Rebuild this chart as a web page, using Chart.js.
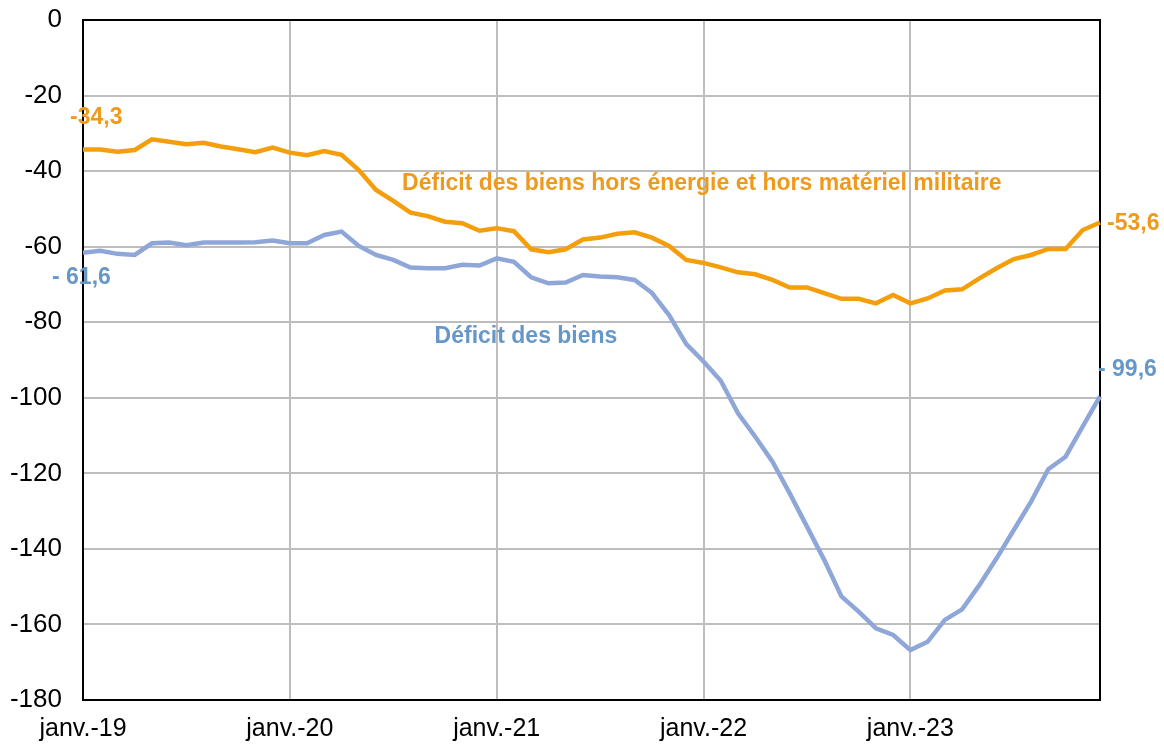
<!DOCTYPE html>
<html>
<head>
<meta charset="utf-8">
<script src="https://cdn.jsdelivr.net/npm/chart.js@4"></script>
<style>
  body { margin: 0; background: #fff; }
  #wrap { width: 1164px; height: 744px; }
</style>
</head>
<body>
<div id="wrap"><canvas id="myChart"></canvas></div>
<script>
const monthNames = ["janv.", "févr.", "mars", "avr.", "mai", "juin", "juil.", "août", "sept.", "oct.", "nov.", "déc."];
const years = ["19", "20", "21", "22", "23"];
const categories = years.flatMap((y) => monthNames.map((m) => m + "-" + y));

// Déficit des biens hors énergie et hors matériel militaire (Md€, cumul 12 mois)
const deficitHorsEnergie = [
  -34.3, -34.3, -34.9, -34.4, -31.6, -32.2, -32.9, -32.5, -33.5, -34.2, -35.0, -33.8,
  -35.1, -35.8, -34.7, -35.7, -39.7, -45.0, -47.9, -51.0, -51.9, -53.4, -53.8, -55.8,
  -55.1, -55.9, -60.7, -61.5, -60.7, -58.1, -57.6, -56.6, -56.2, -57.6, -59.8, -63.5,
  -64.3, -65.5, -66.8, -67.3, -68.8, -70.8, -70.8, -72.3, -73.8, -73.8, -75.0, -72.8,
  -75.0, -73.7, -71.6, -71.3, -68.4, -65.7, -63.3, -62.2, -60.6, -60.6, -55.6, -53.6
];

// Déficit des biens
const deficitBiens = [
  -61.6, -61.1, -61.9, -62.2, -59.1, -58.9, -59.6, -58.9, -58.9, -58.9, -58.8, -58.4,
  -59.1, -59.1, -56.9, -56.0, -59.8, -62.2, -63.5, -65.5, -65.7, -65.7, -64.8, -65.0,
  -63.1, -64.0, -68.1, -69.7, -69.5, -67.5, -67.9, -68.1, -68.8, -72.2, -78.1, -85.8,
  -90.4, -95.5, -104.1, -110.3, -116.9, -125.3, -134.1, -142.9, -152.6, -156.6, -161.0, -162.8,
  -166.8, -164.6, -158.8, -156.0, -149.6, -142.5, -135.0, -127.5, -118.9, -115.6, -107.6, -99.6
];

const yMin = -180;
const yMax = 0;
const yStep = 20;

const orange = "#F59E0B";
const orangeText = "#EE9A1E";
const blue = "#8EA6D8";
const blueText = "#6797C8";
const gridGrey = "#BDBDBD";

// texts placed on the chart: anchored on (category index, value), shifted in px
const notes = [
  { text: "-34,3", i: 0, v: deficitHorsEnergie[0], dx: -13, dy: -32, align: "left", color: orangeText },
  { text: "- 61,6", i: 0, v: deficitBiens[0], dx: -31, dy: 25, align: "left", color: blueText },
  { text: "-53,6", i: 59, v: deficitHorsEnergie[59], dx: 7, dy: 1, align: "left", color: orangeText },
  { text: "- 99,6", i: 59, v: deficitBiens[59], dx: -2, dy: -27, align: "left", color: blueText },
  { text: "Déficit des biens hors énergie et hors matériel militaire", i: 35.9, v: -43.2, dx: 0, dy: 0, align: "center", color: orangeText },
  { text: "Déficit des biens", i: 25.7, v: -83.9, dx: 0, dy: 0, align: "center", color: blueText }
];

const frameAndNotes = {
  id: "frameAndNotes",
  beforeDatasetsDraw(chart) {
    const { ctx, chartArea } = chart;
    ctx.save();
    ctx.strokeStyle = "#000";
    ctx.lineWidth = 2;
    ctx.strokeRect(chartArea.left, chartArea.top, chartArea.right - chartArea.left, chartArea.bottom - chartArea.top);
    ctx.restore();
  },
  afterDatasetsDraw(chart) {
    const { ctx } = chart;
    const xs = chart.scales.x;
    const ys = chart.scales.y;
    const step = xs.getPixelForValue(1) - xs.getPixelForValue(0);
    ctx.save();
    ctx.font = "bold 23px 'Liberation Sans', Arial, sans-serif";
    ctx.textBaseline = "middle";
    notes.forEach((n) => {
      const x = xs.getPixelForValue(0) + n.i * step + n.dx;
      const y = ys.getPixelForValue(n.v) + n.dy;
      ctx.fillStyle = n.color;
      ctx.textAlign = n.align;
      ctx.fillText(n.text, x, y);
    });
    ctx.restore();
  }
};

new Chart(document.getElementById("myChart"), {
  type: "line",
  data: {
    labels: categories,
    datasets: [
      {
        label: "Déficit des biens hors énergie et hors matériel militaire",
        data: deficitHorsEnergie,
        borderColor: orange,
        borderWidth: 4.5,
        pointRadius: 0,
        tension: 0
      },
      {
        label: "Déficit des biens",
        data: deficitBiens,
        borderColor: blue,
        borderWidth: 4.5,
        pointRadius: 0,
        tension: 0
      }
    ]
  },
  options: {
    responsive: true,
    maintainAspectRatio: false,
    animation: false,
    layout: { padding: { top: 20, right: 64, left: 0, bottom: 0 } },
    plugins: {
      legend: { display: false },
      tooltip: { enabled: false }
    },
    scales: {
      x: {
        offset: false,
        border: { display: false },
        grid: {
          drawTicks: false,
          lineWidth: 2,
          color: (c) => (c.index % 12 === 0 ? gridGrey : "rgba(0,0,0,0)")
        },
        ticks: {
          autoSkip: false,
          maxRotation: 0,
          padding: 14,
          color: "#000",
          font: { family: "'Liberation Sans', Arial, sans-serif", size: 25 },
          callback: (v, i) => (i % 12 === 0 ? categories[i] : "")
        },
        afterFit: (s) => { s.height = 44; s.paddingLeft = 0; s.paddingRight = 0; }
      },
      y: {
        min: yMin,
        max: yMax,
        border: { display: false },
        grid: { drawTicks: false, lineWidth: 2, color: gridGrey },
        ticks: {
          stepSize: yStep,
          padding: 21,
          color: "#000",
          font: { family: "'Liberation Sans', Arial, sans-serif", size: 26 },
          callback: (v) => String(v)
        },
        afterFit: (s) => { s.width = 83; s.paddingTop = 0; s.paddingBottom = 0; }
      }
    }
  },
  plugins: [frameAndNotes]
});
</script>
</body>
</html>
